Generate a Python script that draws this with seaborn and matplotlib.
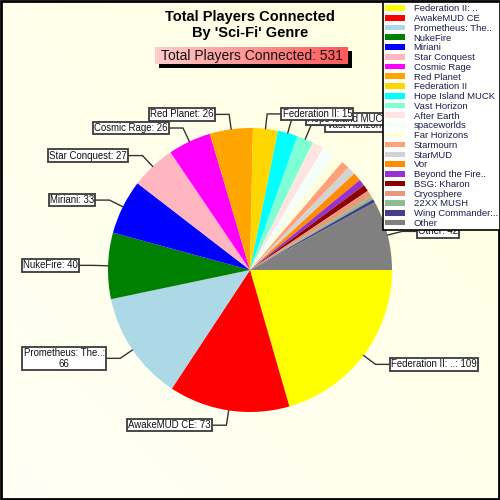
import numpy as np
import matplotlib
matplotlib.use("Agg")
import matplotlib.pyplot as plt
import seaborn as sns
from matplotlib.patches import Patch, Rectangle

sns.set_theme(style="white")
plt.rcParams['font.family'] = ['Liberation Sans', 'DejaVu Sans']

# data
names = ["Federation II: ..", "AwakeMUD CE", "Prometheus: The..", "NukeFire", "Miriani",
         "Star Conquest", "Cosmic Rage", "Red Planet", "Federation II", "Hope Island MUCK",
         "Vast Horizon", "After Earth", "spaceworlds", "Far Horizons", "Starmourn",
         "StarMUD", "Vor", "Beyond the Fire..", "BSG: Kharon", "Cryosphere",
         "22XX MUSH", "Wing Commander:..", "Other"]
players = [109, 73, 66, 40, 33, 27, 26, 26, 15, 12, 10, 7, 8, 6, 5, 5, 5, 4, 4, 4, 2, 2, 42]
colors = ["#FFFF00", "#FF0000", "#ADD8E6", "#008000", "#0000FF", "#FFB6C1", "#FF00FF",
          "#FFA500", "#FFD700", "#00FFFF", "#7FFFD4", "#FFE4E1", "#F5FFFA", "#FFFFE0",
          "#FFA07A", "#D3D3D3", "#FF8C00", "#9932CC", "#8B0000", "#E9967A", "#8FBC8F",
          "#483D8B", "#808080"]
label_names = {0: "Federation II: ..", 1: "AwakeMUD CE", 2: "Prometheus: The..:",
               3: "NukeFire", 4: "Miriani", 5: "Star Conquest", 6: "Cosmic Rage",
               7: "Red Planet", 8: "Federation II", 9: "Hope Island MUCK",
               10: "Vast Horizon", 22: "Other"}
total = sum(players)

fig = plt.figure(figsize=(5, 5), dpi=100)

# background gradient + frame
bg = fig.add_axes([0, 0, 1, 1])
yy, xx = np.mgrid[0:1:200j, 0:1:200j]
t = (xx + (1 - yy)) / 2
c0 = np.array([1.0, 1.0, 0.965])
c1 = np.array([1.0, 1.0, 0.88])
img = c0[None, None, :] * (1 - t[..., None]) + c1[None, None, :] * t[..., None]
bg.imshow(img, extent=(0, 500, 500, 0), aspect='auto')
bg.set_xlim(0, 500)
bg.set_ylim(500, 0)
bg.add_patch(Rectangle((1, 1), 498, 498, fill=False, ec="black", lw=2))
bg.axis('off')

ax = fig.add_axes([0, 0, 1, 1])
ax.patch.set_alpha(0)
cx, cy, r = 250, 270, 142
ax.pie(players, colors=colors, center=(cx, cy), radius=r, startangle=0,
       counterclock=True, wedgeprops=dict(linewidth=0))
ax.set_xlim(0, 500)
ax.set_ylim(500, 0)
ax.set_aspect('auto')
ax.axis('off')

# leader lines + boxed labels (earlier labels drawn on top)
start = 0.0
for i, v in enumerate(players):
    span = v / total * 360
    mid = np.deg2rad(start + span / 2)
    start += span
    if i not in label_names:
        continue
    px, py = cx + r * np.cos(mid), cy + r * np.sin(mid)
    ex, ey = cx + 157 * np.cos(mid), cy + 157 * np.sin(mid)
    side = 1 if np.cos(mid) > 0 else -1
    bx = ex + side * 14
    z = 4 + (30 - i) * 0.1
    ax.plot([px, ex, bx], [py, ey, ey], color="#333333", lw=1, zorder=3)
    if i == 2:
        txt = "%s\n%d" % (label_names[i], v)
    else:
        txt = "%s: %d" % (label_names[i], v)
    ax.text(bx + side * 1.5, ey, txt, ha='left' if side > 0 else 'right', va='center',
            fontsize=6.9, multialignment='center', color="#111111", zorder=z,
            linespacing=1.05,
            bbox=dict(boxstyle="square,pad=0.12", fc="white", ec="#3a3a3a", lw=1.3))

# title
fig.text(0.5, 1 - 25 / 500, "Total Players Connected\nBy 'Sci-Fi' Genre", ha='center',
         va='center', fontsize=10.5, fontweight='bold', linespacing=1.15, color="black")

# subtitle box with shadow and gradient
sub_x0, sub_y0, sub_w, sub_h = 155, 47, 193, 17
ax.add_patch(Rectangle((sub_x0 + 4, sub_y0 + 4), sub_w, sub_h, fc="black", ec="none", zorder=5))
grad = np.linspace(0, 1, 100)[None, :, None]
g0 = np.array([1.0, 0.80, 0.80])
g1 = np.array([1.0, 0.35, 0.35])
ax.imshow(g0 * (1 - grad) + g1 * grad, extent=(sub_x0, sub_x0 + sub_w, sub_y0 + sub_h, sub_y0),
          aspect='auto', zorder=6)
ax.set_xlim(0, 500)
ax.set_ylim(500, 0)
ax.text(sub_x0 + sub_w / 2, sub_y0 + sub_h / 2 + 0.5, "Total Players Connected: %d" % total,
        ha='center', va='center', fontsize=10, color="#111111", zorder=7)

# legend
handles = [Patch(facecolor=c, edgecolor='none') for c in colors]
leg = fig.legend(handles, names, loc='upper left', bbox_to_anchor=(383 / 500, 1 - 2 / 500),
                 fontsize=6.8, frameon=True, fancybox=False, labelspacing=0.08,
                 handlelength=2.1, handleheight=0.55, handletextpad=0.9, borderpad=0.25,
                 borderaxespad=0)
leg.get_frame().set_edgecolor("black")
leg.get_frame().set_linewidth(1.2)
leg.get_frame().set_facecolor("white")
leg.get_frame().set_alpha(1)
leg.set_zorder(10)
for t_ in leg.get_texts():
    t_.set_color("#1c1c4c")

fig.savefig("out.png", dpi=100)
